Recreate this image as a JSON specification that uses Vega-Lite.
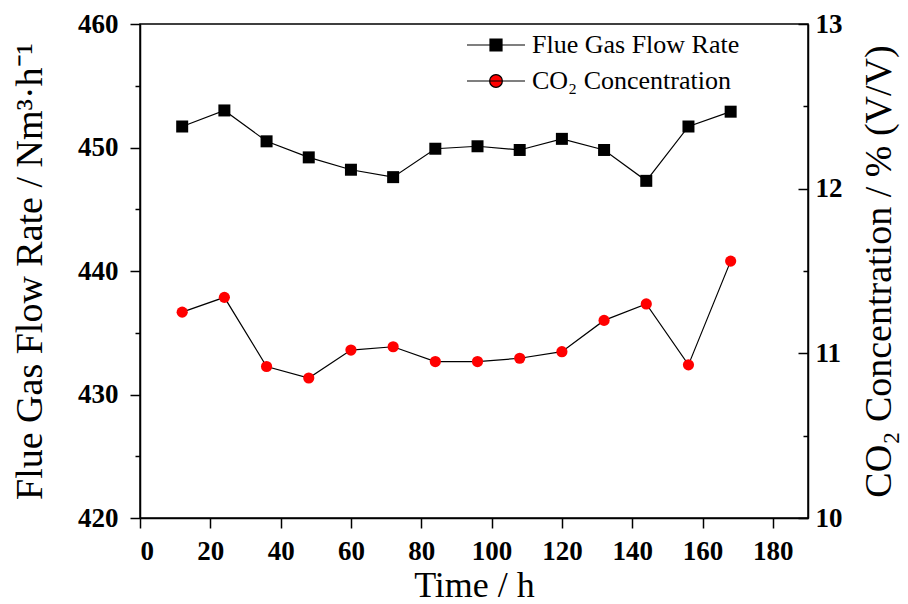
{
  "$schema": "https://vega.github.io/schema/vega-lite/v6.json",
  "width": 668,
  "height": 494,
  "autosize": {"type": "none"},
  "padding": {"left": 140, "top": 24, "right": 100, "bottom": 86},
  "background": "white",
  "config": {
    "view": {"stroke": "black", "strokeWidth": 1.5},
    "font": "Liberation Serif",
    "axis": {
      "grid": false,
      "domainColor": "black",
      "domainWidth": 1.5,
      "tickColor": "black",
      "tickWidth": 1.5,
      "labelColor": "black",
      "titleColor": "black",
      "labelFont": "Liberation Serif",
      "labelFontWeight": "bold",
      "labelFontSize": 27,
      "titleFont": "Liberation Serif",
      "titleFontWeight": "normal",
      "titleFontSize": 38
    },
    "legend": {
      "orient": "none",
      "title": null,
      "labelFont": "Liberation Serif",
      "labelFontSize": 26,
      "labelColor": "black",
      "labelLimit": 400,
      "symbolSize": 3364,
      "labelOffset": 6,
      "symbolStrokeColor": "black",
      "symbolStrokeWidth": 1.2,
      "symbolOpacity": 1
    }
  },
  "data": {
    "values": [
      {"time": 12, "flow": 451.7, "co2": 11.25},
      {"time": 24, "flow": 453.0, "co2": 11.34},
      {"time": 36, "flow": 450.5, "co2": 10.92},
      {"time": 48, "flow": 449.2, "co2": 10.85},
      {"time": 60, "flow": 448.2, "co2": 11.02},
      {"time": 72, "flow": 447.6, "co2": 11.04},
      {"time": 84, "flow": 449.9, "co2": 10.95},
      {"time": 96, "flow": 450.1, "co2": 10.95},
      {"time": 108, "flow": 449.8, "co2": 10.97},
      {"time": 120, "flow": 450.7, "co2": 11.01},
      {"time": 132, "flow": 449.8, "co2": 11.20},
      {"time": 144, "flow": 447.3, "co2": 11.30},
      {"time": 156, "flow": 451.7, "co2": 10.93},
      {"time": 168, "flow": 452.9, "co2": 11.56}
    ]
  },
  "layer": [
    {
      "layer": [
        {
          "mark": {"type": "line", "color": "black", "strokeWidth": 1.2},
          "encoding": {
            "x": {
              "field": "time",
              "type": "quantitative",
              "scale": {"domain": [0, 190], "nice": false, "zero": false},
              "axis": {
                "orient": "bottom",
                "title": "Time / h",
                "titleFontSize": 36,
                "values": [0, 10, 20, 30, 40, 50, 60, 70, 80, 90, 100, 110, 120, 130, 140, 150, 160, 170, 180, 190],
                "labelExpr": "datum.value % 20 === 0 ? datum.label : ''",
                "tickSize": {"condition": {"test": "datum.value % 20 === 0", "value": 10}, "value": 5},
                "labelPadding": 10,
                "titlePadding": 4
              }
            },
            "y": {
              "field": "flow",
              "type": "quantitative",
              "scale": {"domain": [420, 460], "nice": false, "zero": false},
              "axis": {
                "orient": "left",
                "title": "Flue Gas Flow Rate / Nm³·h⁻¹",
                "values": [420, 425, 430, 435, 440, 445, 450, 455, 460],
                "labelExpr": "datum.value % 10 === 0 ? datum.label : ''",
                "tickSize": {"condition": {"test": "datum.value % 10 === 0", "value": 10}, "value": 5},
                "labelPadding": 12,
                "titlePadding": 28
              }
            }
          }
        },
        {
          "mark": {"type": "point", "shape": "square", "filled": true, "size": 144, "opacity": 1},
          "encoding": {
            "x": {"field": "time", "type": "quantitative"},
            "y": {"field": "flow", "type": "quantitative"},
            "color": {
              "datum": "Flue Gas Flow Rate",
              "type": "nominal",
              "scale": {"domain": ["Flue Gas Flow Rate"], "range": ["black"]},
              "legend": {
                "legendX": 326,
                "legendY": -9,
                "symbolType": "M-1,0L1,0M-0.207,-0.207L0.207,-0.207L0.207,0.207L-0.207,0.207Z",
                "symbolFillColor": "black"
              }
            }
          }
        }
      ]
    },
    {
      "layer": [
        {
          "mark": {"type": "line", "color": "black", "strokeWidth": 1.2},
          "encoding": {
            "x": {"field": "time", "type": "quantitative"},
            "y": {
              "field": "co2",
              "type": "quantitative",
              "scale": {"domain": [10, 13], "nice": false, "zero": false},
              "axis": {
                "orient": "right",
                "title": "CO₂ Concentration / % (V/V)",
                "titleAngle": 270,
                "values": [10, 10.5, 11, 11.5, 12, 12.5, 13],
                "labelExpr": "datum.value % 1 === 0 ? format(datum.value, 'd') : ''",
                "tickSize": {"condition": {"test": "datum.value % 1 === 0", "value": -10}, "value": -5},
                "labelPadding": 17,
                "titlePadding": 56
              }
            }
          }
        },
        {
          "mark": {"type": "point", "shape": "circle", "filled": true, "size": 125, "opacity": 1},
          "encoding": {
            "x": {"field": "time", "type": "quantitative"},
            "y": {"field": "co2", "type": "quantitative"},
            "fill": {
              "datum": "CO₂ Concentration",
              "type": "nominal",
              "scale": {"domain": ["CO₂ Concentration"], "range": ["red"]},
              "legend": {
                "legendX": 326,
                "legendY": 27,
                "symbolType": "M-1,0L1,0M0.22,0A0.22,0.22,0,1,1,-0.22,0A0.22,0.22,0,1,1,0.22,0Z",
                "symbolFillColor": "red"
              }
            }
          }
        }
      ]
    }
  ],
  "resolve": {"scale": {"y": "independent"}}
}
